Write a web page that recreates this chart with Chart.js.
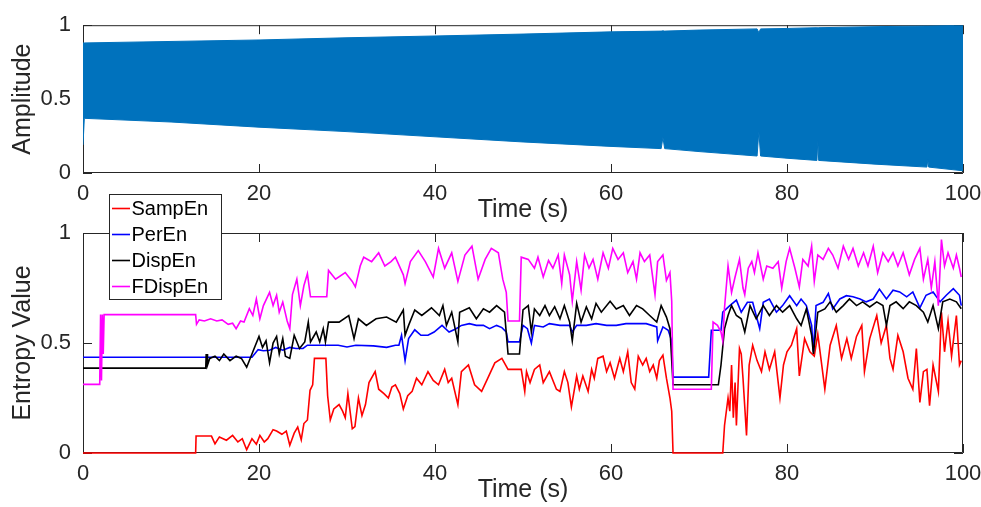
<!DOCTYPE html>
<html>
<head>
<meta charset="utf-8">
<script src="https://cdn.jsdelivr.net/npm/chart.js@4.4.1/dist/chart.umd.min.js"></script>
<style>
  html, body { margin: 0; padding: 0; background: #fff; }
  body { width: 981px; height: 507px; position: relative; overflow: hidden; }
  canvas { position: absolute; left: 0; }
  #ampChart { top: 0; }
  #entChart { top: 190px; }
</style>
</head>
<body>
<canvas id="ampChart" width="981" height="227"></canvas>
<canvas id="entChart" width="981" height="317"></canvas>
<script>
// Amplitude envelope of the signal (time s, upper, lower)
const ampTime  = [0, 0.15, 10, 20, 30, 40, 50, 60, 65.7, 65.9, 66.1, 70, 76.6, 76.8, 77.0, 80, 83.4, 83.5, 83.6, 90, 95.9, 96.0, 96.1, 100];
const ampUpper = [0.88, 0.88, 0.89, 0.90, 0.915, 0.927, 0.94, 0.955, 0.96, 0.962, 0.96, 0.967, 0.975, 0.95, 0.975, 0.978, 0.983, 0.983, 0.983, 0.99, 0.995, 0.995, 0.995, 1.0];
const ampLower = [0.19, 0.37, 0.345, 0.31, 0.28, 0.245, 0.21, 0.18, 0.165, 0.24, 0.165, 0.145, 0.115, 0.28, 0.115, 0.1, 0.085, 0.22, 0.085, 0.06, 0.04, 0.09, 0.04, 0.015];

// Entropy series as [time, value]
const sampEn = [[0,0],[12.8,0],[12.85,0.077],[14.6,0.077],[15.0,0.042],[15.5,0.073],[16.3,0.058],[17.0,0.08],[17.6,0.05],[18.1,0.065],[18.6,0.015],[19.2,0.065],[19.7,0.04],[20.1,0.08],[20.6,0.05],[21.0,0.065],[21.6,0.106],[22.0,0.10],[22.6,0.085],[23.1,0.10],[23.5,0.035],[24.0,0.09],[24.4,0.118],[24.8,0.06],[25.1,0.134],[25.5,0.15],[25.8,0.285],[26.1,0.31],[26.3,0.43],[27.6,0.43],[27.8,0.26],[28.1,0.15],[28.5,0.2],[29.1,0.22],[29.5,0.19],[29.8,0.16],[30.1,0.27],[30.6,0.11],[30.9,0.12],[31.3,0.25],[31.7,0.17],[32.1,0.22],[32.5,0.32],[33.2,0.37],[33.6,0.29],[34.2,0.27],[34.7,0.25],[35.1,0.30],[35.5,0.31],[36.0,0.27],[36.4,0.20],[36.9,0.26],[37.4,0.28],[37.9,0.34],[38.5,0.31],[39.2,0.37],[39.8,0.33],[40.4,0.31],[41.1,0.38],[41.5,0.32],[41.9,0.34],[42.6,0.22],[43.0,0.37],[43.8,0.40],[44.5,0.31],[45.3,0.28],[46.0,0.34],[46.8,0.41],[47.6,0.43],[48.3,0.38],[49.8,0.38],[50.2,0.28],[50.4,0.37],[50.8,0.32],[51.3,0.38],[51.9,0.40],[52.3,0.32],[53.0,0.37],[53.8,0.29],[54.2,0.28],[54.7,0.37],[55.1,0.32],[55.5,0.21],[56.1,0.35],[56.4,0.29],[56.8,0.35],[57.4,0.28],[57.8,0.38],[58.1,0.34],[58.5,0.43],[59.1,0.44],[59.5,0.37],[59.9,0.41],[60.4,0.34],[61.0,0.43],[61.4,0.37],[61.9,0.46],[62.3,0.32],[62.7,0.29],[63.1,0.44],[63.6,0.40],[64.0,0.43],[64.4,0.37],[64.8,0.40],[65.2,0.34],[65.5,0.42],[65.9,0.445],[66.3,0.34],[66.7,0.25],[66.9,0.19],[67.05,0],[72.7,0],[72.9,0.125],[73.3,0.25],[73.5,0.19],[73.7,0.40],[73.9,0.16],[74.1,0.32],[74.25,0.125],[74.6,0.475],[74.8,0.45],[75.0,0.34],[75.4,0.08],[75.7,0.40],[76.1,0.49],[76.6,0.42],[77.1,0.37],[77.5,0.46],[78.0,0.38],[78.6,0.46],[79.2,0.25],[79.6,0.40],[80.0,0.46],[80.5,0.49],[81.1,0.565],[81.4,0.35],[82.0,0.52],[82.6,0.46],[83.1,0.44],[83.5,0.54],[84.3,0.29],[84.9,0.49],[85.6,0.58],[86.2,0.43],[86.8,0.52],[87.3,0.43],[87.9,0.53],[88.5,0.58],[88.8,0.37],[89.4,0.52],[90.2,0.625],[90.7,0.50],[91.3,0.58],[91.7,0.43],[92.05,0.38],[92.6,0.535],[93.2,0.46],[93.75,0.34],[94.3,0.29],[94.7,0.475],[95.1,0.23],[95.5,0.37],[95.9,0.38],[96.2,0.215],[96.6,0.40],[97.2,0.28],[97.55,0.64],[97.9,0.46],[98.3,0.60],[98.7,0.44],[99.25,0.625],[99.6,0.40],[99.8,0.42]];

const perEn = [[0,0.435],[19.2,0.435],[19.5,0.45],[19.9,0.47],[20.5,0.465],[21.2,0.467],[21.9,0.48],[22.7,0.467],[23.5,0.48],[24.2,0.475],[25.0,0.475],[25.5,0.49],[27.0,0.49],[29.0,0.49],[30.0,0.482],[31.0,0.49],[33.0,0.487],[34.5,0.48],[35.5,0.49],[35.9,0.49],[36.2,0.535],[36.6,0.42],[37.0,0.52],[37.7,0.56],[38.4,0.535],[39.2,0.535],[39.9,0.55],[40.8,0.58],[41.6,0.55],[42.4,0.565],[43.0,0.58],[43.9,0.588],[44.7,0.58],[45.5,0.58],[46.2,0.565],[47.0,0.58],[47.6,0.57],[48.1,0.55],[48.3,0.505],[49.6,0.505],[50.0,0.58],[50.5,0.565],[50.95,0.50],[51.3,0.58],[52.3,0.573],[53.0,0.588],[54.2,0.58],[55.3,0.58],[55.6,0.55],[56.1,0.58],[57.2,0.58],[58.3,0.588],[59.5,0.58],[60.6,0.58],[61.7,0.588],[62.9,0.588],[64.0,0.588],[65.2,0.573],[65.3,0.51],[65.9,0.573],[66.5,0.558],[66.9,0.51],[67.05,0.345],[71.1,0.345],[71.4,0.558],[72.5,0.558],[72.7,0.64],[73.5,0.67],[74.25,0.695],[74.8,0.64],[75.5,0.685],[76.1,0.685],[76.9,0.565],[77.3,0.685],[78.0,0.70],[78.8,0.64],[79.5,0.67],[80.3,0.715],[81.1,0.67],[81.6,0.70],[82.2,0.67],[82.8,0.58],[83.0,0.46],[83.3,0.67],[84.1,0.685],[84.7,0.725],[85.2,0.655],[86.0,0.70],[86.75,0.715],[87.5,0.71],[88.3,0.70],[89.0,0.687],[89.8,0.70],[90.5,0.745],[91.3,0.70],[92.05,0.74],[92.8,0.732],[93.6,0.71],[94.3,0.732],[95.1,0.66],[95.8,0.717],[96.6,0.732],[97.4,0.687],[98.1,0.717],[98.9,0.747],[99.6,0.717],[99.8,0.67]];

const dispEn = [[0,0.386],[13.95,0.386],[14.0,0.45],[14.05,0.39],[14.1,0.45],[14.15,0.40],[14.4,0.43],[15.0,0.44],[15.5,0.42],[16.0,0.45],[16.7,0.42],[17.4,0.44],[18.0,0.43],[18.6,0.39],[19.3,0.46],[20.0,0.53],[20.4,0.48],[20.8,0.51],[21.2,0.41],[21.6,0.50],[22.0,0.53],[22.3,0.45],[22.7,0.52],[23.0,0.44],[23.5,0.43],[24.0,0.535],[24.6,0.475],[25.2,0.505],[25.6,0.595],[25.85,0.505],[26.5,0.55],[26.9,0.505],[27.3,0.565],[27.55,0.505],[27.9,0.595],[29.1,0.595],[30.2,0.625],[30.8,0.52],[31.3,0.61],[32.2,0.58],[33.3,0.61],[34.5,0.618],[35.6,0.595],[36.4,0.65],[36.6,0.535],[37.0,0.58],[37.7,0.65],[38.5,0.625],[39.6,0.66],[40.5,0.625],[40.9,0.67],[41.3,0.58],[41.9,0.64],[42.6,0.505],[42.8,0.64],[43.9,0.66],[44.7,0.61],[45.5,0.655],[46.2,0.64],[47.0,0.67],[47.9,0.64],[48.3,0.45],[49.6,0.45],[50.0,0.65],[50.6,0.67],[50.95,0.55],[51.3,0.655],[51.9,0.625],[52.5,0.67],[53.0,0.625],[53.6,0.665],[54.2,0.61],[54.7,0.67],[55.3,0.595],[55.6,0.51],[56.1,0.68],[56.6,0.595],[57.2,0.664],[57.8,0.61],[58.3,0.68],[58.9,0.64],[59.9,0.69],[60.6,0.655],[61.4,0.67],[62.1,0.625],[62.9,0.67],[63.6,0.655],[64.4,0.625],[65.2,0.595],[65.7,0.67],[66.3,0.618],[66.7,0.565],[67.05,0.31],[72.2,0.31],[72.5,0.40],[72.9,0.565],[73.3,0.625],[73.7,0.67],[74.25,0.625],[74.8,0.61],[75.2,0.55],[75.8,0.67],[76.5,0.61],[77.3,0.67],[78.0,0.625],[78.8,0.67],[79.5,0.64],[80.3,0.67],[81.1,0.61],[81.6,0.58],[82.2,0.655],[82.8,0.535],[83.0,0.45],[83.5,0.64],[84.3,0.655],[84.9,0.687],[85.6,0.64],[86.4,0.67],[87.1,0.70],[87.9,0.67],[88.6,0.687],[89.4,0.664],[90.2,0.687],[90.9,0.67],[91.3,0.58],[91.7,0.67],[92.4,0.687],[93.2,0.656],[93.9,0.687],[94.7,0.67],[95.5,0.64],[96.0,0.595],[96.6,0.67],[97.2,0.565],[97.7,0.687],[98.5,0.70],[99.25,0.687],[99.8,0.656]];

const fDispEn = [[0,0.312],[1.9,0.312],[2.0,0.629],[2.1,0.33],[2.2,0.629],[2.3,0.45],[2.4,0.629],[12.8,0.629],[12.9,0.585],[13.2,0.605],[13.8,0.60],[14.5,0.61],[15.2,0.60],[15.8,0.605],[16.5,0.585],[17.0,0.59],[17.4,0.565],[17.9,0.60],[18.3,0.595],[18.9,0.656],[19.3,0.625],[19.7,0.70],[20.1,0.61],[20.5,0.67],[21.2,0.73],[21.6,0.67],[22.0,0.717],[22.3,0.64],[22.7,0.686],[23.2,0.60],[23.5,0.565],[23.8,0.72],[24.3,0.79],[24.7,0.67],[25.1,0.76],[25.5,0.815],[25.85,0.71],[27.7,0.71],[27.9,0.83],[28.7,0.79],[29.8,0.82],[30.6,0.78],[30.95,0.755],[31.5,0.85],[31.9,0.89],[32.8,0.87],[33.6,0.91],[34.3,0.85],[35.0,0.87],[35.5,0.89],[36.4,0.81],[36.6,0.77],[37.2,0.87],[38.1,0.92],[38.9,0.87],[39.8,0.80],[40.4,0.93],[41.1,0.84],[41.9,0.91],[42.6,0.78],[43.4,0.90],[44.2,0.94],[44.9,0.79],[45.7,0.88],[46.4,0.93],[47.2,0.91],[47.7,0.79],[48.1,0.73],[48.3,0.60],[49.6,0.60],[49.8,0.89],[50.6,0.88],[51.3,0.84],[51.7,0.89],[52.3,0.80],[52.9,0.875],[53.4,0.84],[54.0,0.90],[54.4,0.77],[54.7,0.90],[55.3,0.81],[55.6,0.69],[56.1,0.87],[56.6,0.74],[57.0,0.90],[57.5,0.84],[57.96,0.88],[58.5,0.79],[59.1,0.91],[59.7,0.84],[60.2,0.93],[60.8,0.88],[61.4,0.91],[61.9,0.82],[62.5,0.87],[62.9,0.79],[63.3,0.91],[63.8,0.87],[64.4,0.90],[65.0,0.72],[65.3,0.87],[65.9,0.90],[66.3,0.785],[66.7,0.82],[66.9,0.69],[67.05,0.29],[71.4,0.29],[71.6,0.595],[72.1,0.58],[72.5,0.55],[72.7,0.51],[72.9,0.66],[73.3,0.85],[73.7,0.73],[74.1,0.80],[74.6,0.88],[75.0,0.75],[75.2,0.72],[75.6,0.84],[76.0,0.87],[76.3,0.82],[76.7,0.91],[77.3,0.79],[77.7,0.85],[78.4,0.84],[79.0,0.87],[79.4,0.75],[79.9,0.87],[80.3,0.93],[80.9,0.84],[81.4,0.755],[81.8,0.88],[82.4,0.85],[82.8,0.94],[83.1,0.78],[83.5,0.90],[84.1,0.88],[84.7,0.93],[85.2,0.90],[85.8,0.84],[86.4,0.94],[87.0,0.88],[87.5,0.93],[88.1,0.85],[88.7,0.91],[89.2,0.85],[89.8,0.94],[90.3,0.82],[90.9,0.91],[91.5,0.87],[92.05,0.91],[92.6,0.85],[93.2,0.91],[93.9,0.81],[94.5,0.88],[95.1,0.93],[95.5,0.79],[96.0,0.88],[96.4,0.75],[96.8,0.87],[97.2,0.67],[97.55,0.97],[97.9,0.85],[98.3,0.91],[98.9,0.84],[99.25,0.90],[99.6,0.84],[99.8,0.80]];

const seriesNames = ['SampEn', 'PerEn', 'DispEn', 'FDispEn'];
const seriesColors = ['#ff0000', '#0000ff', '#000000', '#ff00ff'];
const xTicks = [0, 20, 40, 60, 80, 100];
const yTicks = [0, 0.5, 1];

const FONT = '"Liberation Sans", Arial, Helvetica, sans-serif';
const AXIS_COLOR = '#262626';

const toPoints = pairs => pairs.map(p => ({ x: p[0], y: p[1] }));

// MATLAB-like box with inward ticks on all four sides
const matlabAxes = {
    id: 'matlabAxes',
    beforeDatasetsDraw(chart) {
        const { ctx, chartArea: a, scales } = chart;
        ctx.save();
        ctx.strokeStyle = AXIS_COLOR;
        ctx.lineWidth = 1;
        ctx.beginPath();
        ctx.rect(a.left + 0.5, a.top + 0.5, a.right - a.left - 1, a.bottom - a.top - 1);
        xTicks.forEach(v => {
            const px = Math.round(scales.x.getPixelForValue(v)) + 0.5;
            ctx.moveTo(px, a.bottom); ctx.lineTo(px, a.bottom - 9);
            ctx.moveTo(px, a.top); ctx.lineTo(px, a.top + 9);
        });
        yTicks.forEach(v => {
            const py = Math.round(scales.y.getPixelForValue(v)) + 0.5;
            ctx.moveTo(a.left, py); ctx.lineTo(a.left + 9, py);
            ctx.moveTo(a.right, py); ctx.lineTo(a.right - 9, py);
        });
        ctx.stroke();
        ctx.restore();
    }
};

// Legend box in the upper left of the entropy axes
const boxLegend = {
    id: 'boxLegend',
    afterDraw(chart) {
        const { ctx } = chart;
        const x0 = 109.5, y0 = 4.5, w = 112, h = 105;
        ctx.save();
        ctx.fillStyle = '#ffffff';
        ctx.fillRect(x0, y0, w, h);
        ctx.strokeStyle = AXIS_COLOR;
        ctx.lineWidth = 1;
        ctx.strokeRect(x0, y0, w, h);
        ctx.font = '20px ' + FONT;
        ctx.textBaseline = 'middle';
        chart.data.datasets.forEach((ds, i) => {
            const yy = 18.5 + i * 26;
            ctx.strokeStyle = ds.borderColor;
            ctx.lineWidth = 1.6;
            ctx.beginPath();
            ctx.moveTo(112, yy);
            ctx.lineTo(130, yy);
            ctx.stroke();
            ctx.fillStyle = '#000000';
            ctx.fillText(ds.label, 131.5, yy + 1);
        });
        ctx.restore();
    }
};

function makeScales(yWidth, xHeight, yTitle) {
    return {
        x: {
            type: 'linear',
            min: 0,
            max: 100,
            afterBuildTicks: s => { s.ticks = xTicks.map(v => ({ value: v })); },
            afterFit: s => { s.height = xHeight; s.paddingLeft = 0; s.paddingRight = 18; },
            grid: { display: false, drawTicks: false },
            border: { display: false },
            ticks: { color: AXIS_COLOR, font: { family: FONT, size: 22 }, padding: 8, maxRotation: 0 },
            title: { display: true, text: 'Time (s)', color: AXIS_COLOR, font: { family: FONT, size: 25 }, padding: { top: 0, bottom: 2 } }
        },
        y: {
            type: 'linear',
            min: 0,
            max: 1,
            afterBuildTicks: s => { s.ticks = yTicks.map(v => ({ value: v })); },
            afterFit: s => { s.width = yWidth; },
            grid: { display: false, drawTicks: false },
            border: { display: false },
            ticks: { color: AXIS_COLOR, font: { family: FONT, size: 22 }, padding: 12, callback: v => String(v) },
            title: { display: true, text: yTitle, color: AXIS_COLOR, font: { family: FONT, size: 25 }, padding: { top: 8, bottom: 0 } }
        }
    };
}

const commonOptions = {
    responsive: false,
    animation: false,
    devicePixelRatio: 1,
    events: [],
    plugins: { legend: { display: false }, tooltip: { enabled: false } },
    elements: { point: { radius: 0 }, line: { tension: 0 } }
};

// Top: amplitude signal
new Chart(document.getElementById('ampChart'), {
    type: 'line',
    data: {
        datasets: [
            {
                label: 'lower',
                data: ampTime.map((t, i) => ({ x: t, y: ampLower[i] })),
                borderColor: '#0072bd',
                borderWidth: 1,
                fill: false
            },
            {
                label: 'upper',
                data: ampTime.map((t, i) => ({ x: t, y: ampUpper[i] })),
                borderColor: '#0072bd',
                backgroundColor: '#0072bd',
                borderWidth: 1,
                fill: '-1'
            }
        ]
    },
    options: {
        ...commonOptions,
        layout: { padding: { left: 0, right: 0, top: 17, bottom: 0 } },
        scales: makeScales(83, 54, 'Amplitude')
    },
    plugins: [matlabAxes]
});

// Bottom: entropy curves
const entropyData = [sampEn, perEn, dispEn, fDispEn];
new Chart(document.getElementById('entChart'), {
    type: 'line',
    data: {
        datasets: entropyData.map((pairs, i) => ({
            label: seriesNames[i],
            data: toPoints(pairs),
            borderColor: seriesColors[i],
            borderWidth: 1.6,
            fill: false,
            clip: 3,
            order: entropyData.length - i
        }))
    },
    options: {
        ...commonOptions,
        layout: { padding: { left: 0, right: 0, top: 43, bottom: 0 } },
        scales: makeScales(83, 54, 'Entropy Value')
    },
    plugins: [matlabAxes, boxLegend]
});
</script>
</body>
</html>
